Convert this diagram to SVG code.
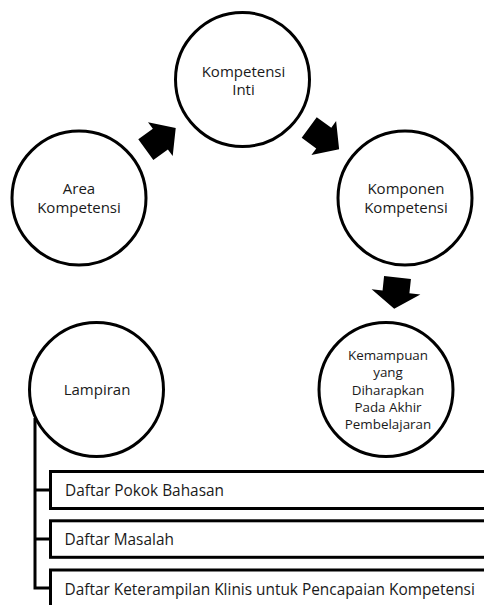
<svg xmlns="http://www.w3.org/2000/svg" width="484" height="605" viewBox="0 0 484 605">
<style>
.node circle{fill:#fff;stroke:#000;stroke-width:3}
.bar rect{fill:#fff;stroke:#000;stroke-width:3}
text{font-family:"Open Sans","Noto Sans","Liberation Sans",sans-serif;fill:#1a1a1a}
.c{font-size:15px;text-anchor:middle}
.s{font-size:13.4px;text-anchor:middle}
.b{font-size:15.4px}
.conn path{fill:none;stroke:#000;stroke-width:3}
.arr{fill:#000}
</style>
<defs>
<polygon id="blk" points="0,-12.8 18,-12.8 18,-21 37,0 18,21 18,12.8 0,12.8"/>
</defs>
<g id="connectors" class="conn">
<path d="M35 418 V588 H51.5 M35 490 H51.5 M35 539 H51.5"/>
<use href="#blk" class="arr" transform="translate(145.8,149.7) rotate(-36)"/>
<use href="#blk" class="arr" transform="translate(309.2,127.5) rotate(36)"/>
<polygon class="arr" points="0,-13.5 14.5,-13.5 14.5,-24.5 31.5,0 14.5,24.5 14.5,13.5 0,13.5" transform="translate(397.5,277.5) rotate(96)"/>
</g>
<g id="kompetensi-inti" class="node">
<circle cx="242.5" cy="79.5" r="67"/>
<text class="c" x="243.5" y="76.7">Kompetensi</text>
<text class="c" x="243.5" y="95.3">Inti</text>
</g>
<g id="area-kompetensi" class="node">
<circle cx="79" cy="198" r="67"/>
<text class="c" x="79" y="194.2">Area</text>
<text class="c" x="79" y="212.8">Kompetensi</text>
</g>
<g id="komponen-kompetensi" class="node">
<circle cx="405" cy="198" r="67"/>
<text class="c" x="406" y="194.2">Komponen</text>
<text class="c" x="406" y="212.8">Kompetensi</text>
</g>
<g id="kemampuan" class="node">
<circle cx="386" cy="389.5" r="67"/>
<text class="s" x="388" y="360">Kemampuan</text>
<text class="s" x="388" y="377.3">yang</text>
<text class="s" x="388" y="394.6">Diharapkan</text>
<text class="s" x="388" y="411.9">Pada Akhir</text>
<text class="s" x="388" y="429.2">Pembelajaran</text>
</g>
<g id="lampiran" class="node">
<circle cx="96.5" cy="389.5" r="67"/>
<text class="c" x="97" y="395">Lampiran</text>
</g>
<g id="daftar-pokok-bahasan" class="bar">
<rect x="50.5" y="471.5" width="460" height="37"/>
<text class="b" x="65" y="495.5">Daftar Pokok Bahasan</text>
</g>
<g id="daftar-masalah" class="bar">
<rect x="50.5" y="520.8" width="460" height="36.5"/>
<text class="b" x="64.5" y="545">Daftar Masalah</text>
</g>
<g id="daftar-keterampilan" class="bar">
<rect x="50.5" y="570" width="460" height="37"/>
<text class="b" x="64.5" y="594.5">Daftar Keterampilan Klinis untuk Pencapaian Kompetensi</text>
</g>
</svg>
